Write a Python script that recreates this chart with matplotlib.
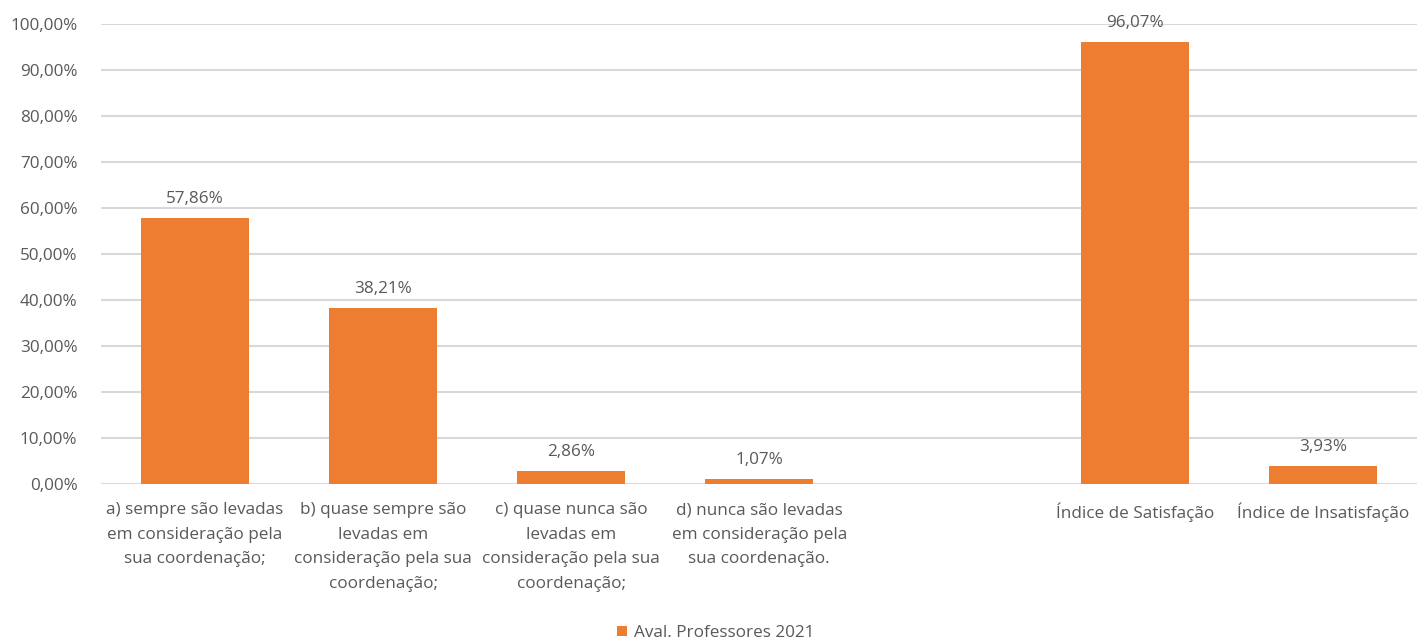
import numpy as np
import matplotlib.pyplot as plt
from matplotlib.ticker import FuncFormatter

plt.rcParams['font.family'] = ['Open Sans', 'DejaVu Sans']

categories = [
    "a) sempre são levadas\nem consideração pela\nsua coordenação;",
    "b) quase sempre são\nlevadas em\nconsideração pela sua\ncoordenação;",
    "c) quase nunca são\nlevadas em\nconsideração pela sua\ncoordenação;",
    "d) nunca são levadas\nem consideração pela\nsua coordenação.",
    "",
    "Índice de Satisfação",
    "Índice de Insatisfação",
]
values = [57.86, 38.21, 2.86, 1.07, None, 96.07, 3.93]
series_name = "Aval. Professores 2021"

bar_color = "#ED7D31"
text_color = "#595959"
grid_color = "#D9D9D9"
fs = 12.3

fig = plt.figure(figsize=(14.17, 6.41), dpi=100)
ax = fig.add_axes([0.0713, 0.245, 0.929, 0.7176])

x = np.arange(len(categories))
xs = [i for i, v in zip(x, values) if v is not None]
vs = [v for v in values if v is not None]
bars = ax.bar(xs, vs, width=0.575, color=bar_color, label=series_name, zorder=3)

for xi, v in zip(xs, vs):
    ax.annotate(f"{v:.2f}%".replace(".", ","), (xi, v), xytext=(0, 8),
                textcoords="offset points", ha="center", va="bottom",
                fontsize=fs, color=text_color)

ax.set_xlim(-0.5, len(categories) - 0.5)
ax.set_ylim(0, 100)
ax.set_yticks(np.arange(0, 101, 10))
ax.yaxis.set_major_formatter(FuncFormatter(lambda v, p: f"{v:.2f}%".replace(".", ",")))
ax.set_xticks(x)
ax.set_xticklabels(categories, fontsize=fs, color=text_color, linespacing=1.72)
ax.tick_params(axis="y", labelsize=fs, labelcolor=text_color, length=0, pad=17)
ax.tick_params(axis="x", length=0, pad=13)

ax.grid(axis="y", color=grid_color, linewidth=1.5, zorder=0)
ax.set_axisbelow(True)
for s in ax.spines.values():
    s.set_visible(False)

fig.legend(handles=[bars], labels=[series_name], loc="lower center",
           bbox_to_anchor=(0.505, -0.024), frameon=False, fontsize=fs,
           labelcolor=text_color, handlelength=0.6, handleheight=0.6,
           handletextpad=0.4)

fig.savefig("out.png", dpi=100)
